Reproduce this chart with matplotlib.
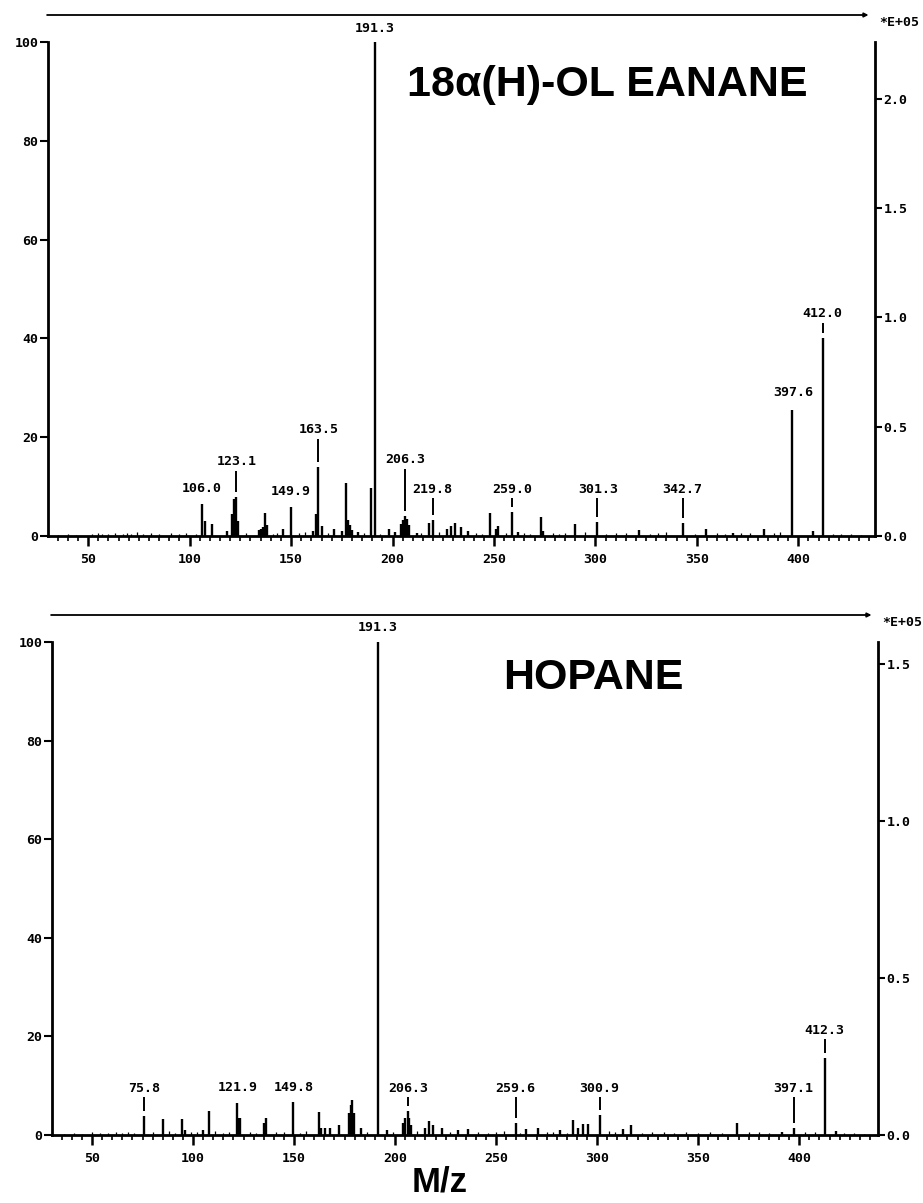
import matplotlib.pyplot as plt
from matplotlib.patches import FancyArrowPatch
from matplotlib.ticker import MultipleLocator, FormatStrFormatter

# 18a(H)-oleanane spectrum (relative intensity, %)
ole_mz = [106, 107.5, 111, 118.5, 121, 122, 123, 124, 134, 135, 136, 137, 138, 146, 150,
          161, 162.5, 163.5, 165, 171, 175, 177, 178, 179, 180, 183, 189.3, 191.3, 198.5,
          201, 204, 205, 206, 207, 208, 212, 218, 220, 227, 229, 231, 234, 237, 248, 251,
          252, 259, 262, 273, 274, 290, 301, 321.5, 343, 354.5, 368, 383, 397, 407, 412]
ole_int = [6.5, 3.0, 2.5, 1.0, 4.5, 7.5, 7.9, 3.0, 1.2, 1.5, 1.8, 4.6, 2.2, 1.5, 5.8,
           1.0, 4.5, 14.0, 2.0, 1.5, 1.0, 10.7, 3.2, 2.2, 1.2, 0.8, 9.7, 100, 1.5,
           0.8, 2.5, 3.2, 4.0, 3.5, 2.2, 0.6, 2.6, 3.2, 1.5, 2.0, 2.6, 1.8, 1.0, 4.6, 1.5,
           2.0, 4.8, 0.8, 3.8, 1.0, 2.4, 2.9, 1.2, 2.6, 1.5, 0.6, 1.5, 25.5, 1.0, 40.0]
ole_noise_mz = [35, 40, 44, 52, 55, 57, 60, 63, 67, 69, 71, 74, 77, 81, 85, 91, 95, 98, 103,
                128, 141, 143, 154, 157, 168, 186, 194, 214, 223, 241, 244, 256, 265, 268,
                279, 282, 285, 295, 305, 310, 315, 327, 331, 335, 349, 360, 364, 372, 376,
                388, 391, 417, 421, 426, 431]
ole_noise_int = [0.3, 0.4, 0.3, 0.5, 0.6, 0.4, 0.5, 0.7, 0.4, 0.6, 0.5, 0.8, 0.5, 0.6, 0.4,
                 0.7, 0.5, 0.6, 0.5, 0.6, 0.5, 0.7, 0.6, 0.8, 0.7, 0.6, 0.5, 0.7, 0.8, 0.6,
                 0.5, 0.7, 0.6, 0.5, 0.7, 0.5, 0.6, 0.8, 0.5, 0.6, 0.7, 0.5, 0.6, 0.8, 0.5,
                 0.6, 0.5, 0.6, 0.7, 0.6, 0.8, 0.5, 0.4, 0.5, 0.3]
ole_lab_mz = [191.3, 106.0, 123.1, 149.9, 163.5, 206.3, 219.8, 259.0, 301.3, 342.7, 397.6, 412.0]
ole_lab_txt = ["191.3", "106.0", "123.1", "149.9", "163.5", "206.3", "219.8", "259.0",
               "301.3", "342.7", "397.6", "412.0"]
ole_lab_y = [102.8, 9.7, 15.0, 9.1, 21.5, 15.4, 9.5, 9.5, 9.5, 9.5, 29.0, 45.0]

# hopane spectrum
hop_mz = [75.5, 85.3, 94.5, 96, 105, 108, 121.7, 122.5, 123.3, 135, 136, 149.4, 162.5,
          163.5, 165.5, 168, 172, 177, 178, 178.8, 179.6, 183, 191.4, 196, 204, 205, 206.3,
          207, 208, 215, 217, 219, 223, 231, 236, 259.8, 265, 270.5, 281.7, 288, 290.6,
          293, 295.6, 301.2, 313, 317, 369, 391.5, 397.3, 412.8, 418]
hop_int = [3.9, 3.2, 3.2, 1.0, 1.0, 4.9, 6.5, 3.5, 3.5, 2.5, 3.5, 6.7, 4.7,
           1.5, 1.5, 1.5, 2.0, 4.5, 6.0, 7.2, 4.5, 1.5, 100, 1.0, 2.5, 3.5, 4.9,
           3.5, 2.0, 1.5, 2.8, 2.0, 1.5, 1.0, 1.2, 2.5, 1.2, 1.5, 1.0, 3.0, 1.5,
           2.3, 2.3, 4.0, 1.2, 2.0, 2.5, 0.7, 1.5, 15.6, 0.8]
hop_noise_mz = [36, 41, 45, 50, 54, 58, 62, 65, 68, 71, 80, 88, 91, 99, 102, 111, 115, 118,
                128, 131, 141, 145, 153, 156, 186, 199, 211, 227, 241, 246, 250, 254, 262,
                275, 278, 285, 306, 309, 322, 327, 333, 338, 344, 350, 356, 362, 375, 380,
                385, 403, 408, 422, 427, 432]
hop_noise_int = [0.3, 0.4, 0.3, 0.6, 0.5, 0.4, 0.6, 0.5, 0.7, 0.5, 0.6, 0.8, 0.5, 0.7, 0.6,
                 0.8, 0.5, 0.6, 0.7, 0.5, 0.6, 0.7, 0.5, 0.8, 0.6, 0.7, 0.8, 0.6, 0.7, 0.5,
                 0.6, 0.8, 0.5, 0.7, 0.6, 0.5, 0.8, 0.6, 0.5, 0.7, 0.6, 0.5, 0.7, 0.5, 0.6,
                 0.5, 0.7, 0.6, 0.5, 0.6, 0.7, 0.5, 0.4, 0.3]
hop_lab_mz = [191.3, 75.8, 121.9, 149.8, 206.3, 259.6, 300.9, 397.1, 412.3]
hop_lab_txt = ["191.3", "75.8", "121.9", "149.8", "206.3", "259.6", "300.9", "397.1", "412.3"]
hop_lab_y = [103.0, 9.5, 9.7, 9.7, 9.5, 9.5, 9.5, 9.5, 21.2]

y_ticks = [0, 20, 40, 60, 80, 100]

mono = dict(family='DejaVu Sans Mono', weight='bold', size=9.5)
W, H = 923, 1203

fig = plt.figure(figsize=(W / 100, H / 100), dpi=100)


def panel(box, xlim, abs_max, mz, inten, nmz, nint, lmz, ltxt, ly, title, tpos, line_y):
    x0, y0, x1, y1 = box
    ax = fig.add_axes([x0 / W, 1 - y1 / H, (x1 - x0) / W, (y1 - y0) / H])
    ax.vlines(nmz, 0, nint, color='black', lw=0.9)
    ax.vlines(mz, 0, inten, color='black', lw=1.7)
    ax.set_xlim(*xlim)
    ax.set_ylim(0, 100)
    for m, t, y in zip(lmz, ltxt, ly):
        # peak under this label
        k = min(range(len(mz)), key=lambda i: abs(mz[i] - m))
        ax.text(m, y, t, ha='center', va='center', clip_on=False, **mono)
        lo, hi = inten[k] + 1.0, y - 1.8
        if hi - lo > 1.0:
            ax.vlines(mz[k], lo, hi, color='black', lw=1.4)
    ax.text(tpos[0], tpos[1], title, transform=ax.transAxes, ha='center', va='center',
            family='Liberation Sans', weight='bold', size=31)

    ax.spines['top'].set_visible(False)
    ax.spines['right'].set_visible(False)
    ax.spines['left'].set_linewidth(2)
    ax.spines['bottom'].set_linewidth(2)
    ax.set_yticks(y_ticks)
    ax.set_yticklabels([str(v) for v in y_ticks], **mono)
    ax.xaxis.set_major_locator(MultipleLocator(50))
    ax.xaxis.set_minor_locator(MultipleLocator(5))
    ax.xaxis.set_major_formatter(FormatStrFormatter('%d'))
    ax.tick_params(axis='x', which='major', length=7, width=1.8, pad=5, labelsize=9.5)
    ax.tick_params(axis='x', which='minor', length=3.5, width=1.2)
    ax.tick_params(axis='y', length=6, width=1.5, pad=1)
    for lab in ax.get_xticklabels():
        lab.set_family('DejaVu Sans Mono')
        lab.set_weight('bold')

    ax2 = ax.twinx()
    ax2.set_ylim(0, abs_max)
    ax2.yaxis.set_major_locator(MultipleLocator(0.5))
    ax2.yaxis.set_major_formatter(FormatStrFormatter('%.1f'))
    for s in ['top', 'left', 'bottom']:
        ax2.spines[s].set_visible(False)
    ax2.spines['right'].set_linewidth(2)
    ax2.tick_params(axis='y', length=5, width=1.5, pad=1, labelsize=9.5)
    for lab in ax2.get_yticklabels():
        lab.set_family('DejaVu Sans Mono')
        lab.set_weight('bold')

    # border line across the top of the panel
    yl = 1 - line_y / H
    fig.add_artist(FancyArrowPatch((x0 / W - 0.004, yl), (x1 / W - 0.004, yl),
                                   transform=fig.transFigure, arrowstyle='-|>',
                                   mutation_scale=6, lw=1.3, color='black'))
    fig.text((x1 + 24) / W, 1 - (line_y + 8) / H, '*E+05', ha='center', va='center', **mono)
    return ax


panel((48, 42, 875, 536), (30.2, 437.8), 2.26, ole_mz, ole_int, ole_noise_mz, ole_noise_int,
      ole_lab_mz, ole_lab_txt, ole_lab_y, '18α(H)-OL EANANE', (0.676, 0.913), 15)
panel((52, 642, 878, 1135), (30.2, 439.0), 1.57, hop_mz, hop_int, hop_noise_mz, hop_noise_int,
      hop_lab_mz, hop_lab_txt, hop_lab_y, 'HOPANE', (0.655, 0.927), 615)

fig.text(440 / W, 1 - 1182 / H, 'M/z', ha='center', va='center',
         family='Liberation Sans', weight='bold', size=25)

fig.savefig('out.png', dpi=100)
